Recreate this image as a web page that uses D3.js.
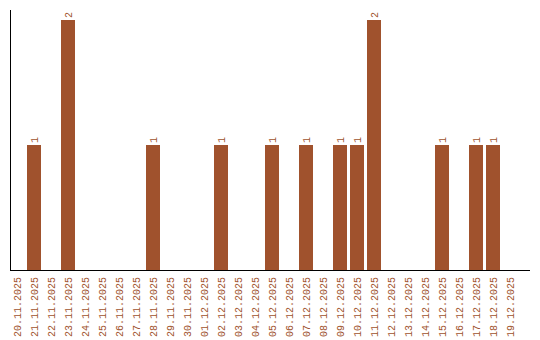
<!DOCTYPE html>
<html>
<head>
<meta charset="utf-8">
<script src="https://cdn.jsdelivr.net/npm/d3@7"></script>
<style>
  body { margin: 0; background: #fff; }
  text { font-family: "Liberation Mono", "DejaVu Sans Mono", monospace; }
</style>
</head>
<body>
<div id="chart"></div>
<script>
var dates = ["20.11.2025", "21.11.2025", "22.11.2025", "23.11.2025", "24.11.2025", "25.11.2025",
    "26.11.2025", "27.11.2025", "28.11.2025", "29.11.2025", "30.11.2025", "01.12.2025",
    "02.12.2025", "03.12.2025", "04.12.2025", "05.12.2025", "06.12.2025", "07.12.2025",
    "08.12.2025", "09.12.2025", "10.12.2025", "11.12.2025", "12.12.2025", "13.12.2025",
    "14.12.2025", "15.12.2025", "16.12.2025", "17.12.2025", "18.12.2025", "19.12.2025"];
var counts = [0, 1, 0, 2, 0, 0, 0, 0, 1, 0, 0, 0, 1, 0, 0, 1, 0, 1, 0, 1, 1, 2, 0, 0, 0, 1, 0, 1, 1, 0];

var width = 540, height = 340;
var color = "#a0522d";

var svg = d3.select("#chart").append("svg")
    .attr("width", width)
    .attr("height", height);

// 30 bands, 17px step from x=10, bars 14px wide
var x = d3.scaleBand()
    .domain(dates)
    .range([10, 10 + (dates.length - 1) * 17 + 14])
    .paddingInner(3 / 17)
    .paddingOuter(0);

var y = d3.scaleLinear()
    .domain([0, 2])
    .range([270, 20]);

var data = dates.map(function(d, i) { return { date: d, value: counts[i] }; });

svg.selectAll("rect")
    .data(data.filter(function(d) { return d.value > 0; }))
    .enter()
    .append("rect")
    .attr("x", function(d) { return x(d.date); })
    .attr("y", function(d) { return y(d.value); })
    .attr("width", x.bandwidth())
    .attr("height", function(d) { return 270 - y(d.value); })
    .attr("fill", color);

// value labels, rotated
svg.selectAll(".val")
    .data(data.filter(function(d) { return d.value > 0; }))
    .enter()
    .append("text")
    .attr("class", "val")
    .attr("transform", function(d) {
        return "translate(" + (x(d.date) + x.bandwidth() / 2 + 3.5) + "," + (y(d.value) - 2) + ") rotate(-90)";
    })
    .style("font-size", "10px")
    .attr("fill", color)
    .text(function(d) { return d.value; });

// x axis
var xAxis = svg.append("g")
    .attr("transform", "translate(0,270)")
    .call(d3.axisBottom(x).tickSize(0).tickPadding(0));
xAxis.select(".domain").remove();
xAxis.selectAll("text")
    .attr("transform", "translate(3.5,7) rotate(-90)")
    .attr("x", 0).attr("y", 0).attr("dy", null)
    .style("text-anchor", "end")
    .style("font-size", "10px")
    .attr("fill", color);

svg.append("line")
    .attr("x1", 10).attr("x2", 530)
    .attr("y1", 270.5).attr("y2", 270.5)
    .attr("stroke", "#000");

svg.append("line")
    .attr("x1", 10.5).attr("x2", 10.5)
    .attr("y1", 10).attr("y2", 270)
    .attr("stroke", "#000");
</script>
</body>
</html>
